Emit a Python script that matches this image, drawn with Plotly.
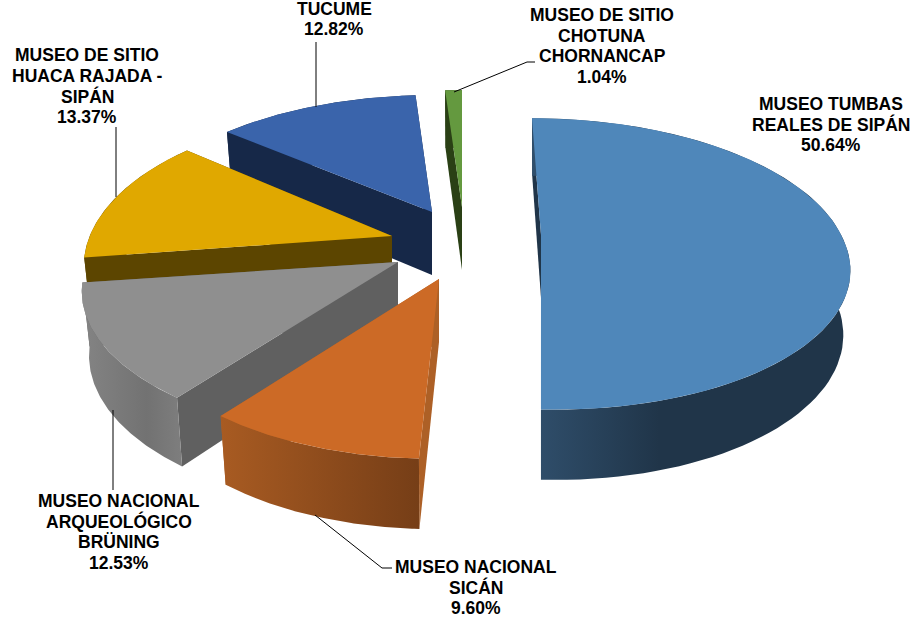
import numpy as np
import plotly.graph_objects as go

categories = ["MUSEO TUMBAS<br>REALES DE SIPÁN", "MUSEO NACIONAL<br>SICÁN",
              "MUSEO NACIONAL<br>ARQUEOLÓGICO<br>BRÜNING", "MUSEO DE SITIO<br>HUACA RAJADA -<br>SIPÁN",
              "TUCUME", "MUSEO DE SITIO<br>CHOTUNA<br>CHORNANCAP"]
values = [50.64, 9.60, 12.53, 13.37, 12.82, 1.04]
top_colors = ["#4f87ba", "#cc6a26", "#8f8f8f", "#e0a800", "#3a64ab", "#64993f"]
radial_colors = ["#203549", "#ad6026", "#606060", "#5c4500", "#162848", "#2a4015"]
outer_grad = [[[0, "#304f6c"], [0.4, "#203549"], [1, "#203549"]],
              [[0, "#a85b22"], [1, "#763e17"]],
              [[0, "#848484"], [0.65, "#727272"], [1, "#7e7e7e"]],
              [[0, "#5c4500"], [1, "#5c4500"]],
              [[0, "#162848"], [1, "#162848"]],
              [[0, "#2a4015"], [1, "#2a4015"]]]
apex = [(541, 235), (439, 279), (398, 262), (392, 236), (432, 212), (462, 207)]
lean_far = [-9, 0, 0, 0, 0, 0]
lean_near = [15, -5, 0, 0, 0, 0]
scale_x = [0.968, 0.97, 1, 0.975, 0.975, 1]
scale_y = [1, 1.03, 1.02, 1.07, 1, 1]
label_pos = [(831, 124), (476, 587), (119, 532), (87, 86), (334, 19), (602, 46)]
leaders = [None, [(315, 515), (382, 568), (392, 568)], [(113, 410), (113, 490)],
           [(116, 127), (116, 197)], [(316, 42), (316, 107)], [(454, 92), (527, 62), (535, 62)]]

RX, RY, K, DEPTH, BOTTOM_X = 310.0, 140.0, 0.198, 63.0, 0.977
LINE_STEP = 20.5


def project(t_deg, i):
    c = apex[i]
    t = np.radians(np.atleast_1d(t_deg))
    u, v = np.sin(t), np.cos(t)
    s = 1 / (1 + K * v)
    dx = RX * scale_x[i] * u * s + lean_far[i] * np.maximum(v, 0) + lean_near[i] * np.maximum(-v, 0)
    dy = -RY * scale_y[i] * v * s
    top = (c[0] + dx, c[1] + dy)
    bot = (c[0] + dx * BOTTOM_X, c[1] + dy + DEPTH * np.sqrt(s))
    return top, bot


def poly(xs, ys, color=None, grad=None):
    d = dict(x=xs, y=ys, mode="lines", fill="toself", line=dict(width=0),
             hoverinfo="skip", showlegend=False)
    if grad is not None:
        d["fillgradient"] = dict(type="horizontal", colorscale=grad)
    else:
        d["fillcolor"] = color
    return go.Scatter(**d)


fig = go.Figure()
edges = np.concatenate([[0], np.cumsum(values)]) / sum(values) * 360

for i in reversed(range(len(values))):
    ts = np.linspace(edges[i], edges[i + 1], 90)
    (tx, ty), (bx, by) = project(ts, i)
    ax, ay = apex[i]
    axb, ayb = ax, ay + DEPTH
    fig.add_trace(poly([ax, tx[-1], bx[-1], axb], [ay, ty[-1], by[-1], ayb], radial_colors[i]))
    fig.add_trace(poly([ax, tx[0], bx[0], axb], [ay, ty[0], by[0], ayb], radial_colors[i]))
    fig.add_trace(poly(np.r_[tx, bx[::-1]], np.r_[ty, by[::-1]], grad=outer_grad[i]))
    fig.add_trace(poly(np.r_[ax, tx], np.r_[ay, ty], top_colors[i]))

for seg in leaders:
    if seg:
        fig.add_trace(go.Scatter(x=[p[0] for p in seg], y=[p[1] for p in seg], mode="lines",
                                 line=dict(color="#000000", width=1), hoverinfo="skip", showlegend=False))

for name, v, (lx, ly) in zip(categories, values, label_pos):
    lines = name.split("<br>") + [f"{v:.2f}%"]
    for j, line in enumerate(lines):
        fig.add_annotation(x=lx, y=ly + (j - (len(lines) - 1) / 2) * LINE_STEP, text=f"<b>{line}</b>",
                           showarrow=False, xanchor="center", yanchor="middle", align="center",
                           font=dict(family="Liberation Sans", size=17.5, color="#000000"))

fig.update_layout(width=914, height=620, margin=dict(l=0, r=0, t=0, b=0),
                  paper_bgcolor="#ffffff", plot_bgcolor="#ffffff", showlegend=False,
                  xaxis=dict(range=[0, 914], visible=False, fixedrange=True),
                  yaxis=dict(range=[620, 0], visible=False, fixedrange=True))
fig.write_html("out.html", config=dict(displayModeBar=False),
               post_script="document.body.style.margin='0';document.documentElement.style.overflow='hidden';")
